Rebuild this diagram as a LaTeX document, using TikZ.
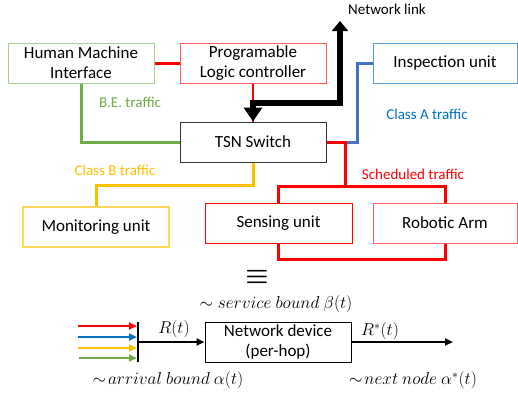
\documentclass[tikz,border=0pt]{standalone}
\usepackage{fontspec}
\setmainfont{Carlito}
\usetikzlibrary{arrows.meta}
\definecolor{cgreen}{RGB}{112,173,71}
\definecolor{cgreenb}{RGB}{169,208,142}
\definecolor{cred}{RGB}{255,0,0}
\definecolor{credb}{RGB}{255,90,90}
\definecolor{cblue}{RGB}{68,114,196}
\definecolor{cblueb}{RGB}{91,155,213}
\definecolor{cbluet}{RGB}{0,112,192}
\definecolor{cyel}{RGB}{255,192,0}
\definecolor{cyelb}{RGB}{255,212,90}
\begin{document}
\begin{tikzpicture}[x=1pt,y=-1pt,
  box/.style={draw,line width=1pt,minimum height=40pt,inner sep=0pt,align=center,font=\fontsize{17}{20}\selectfont,fill=white},
  lbl/.style={font=\fontsize{15}{18}\selectfont,inner sep=0pt},
  mlbl/.style={font=\fontsize{18}{21}\selectfont,inner sep=0pt},
  wire/.style={line width=3pt},
  inarr/.style={line width=2pt,-{Triangle[length=8pt,width=7pt]}}]
\useasboundingbox (0,0) rectangle (518,397);
% nodes
\node[box,draw=cgreenb,minimum width=146pt] (hmi) at (81,63) {Human Machine\\Interface};
\node[box,draw=credb,minimum width=146pt] (plc) at (253,63) {Programable\\Logic controller};
\node[box,draw=cblueb,minimum width=144pt] (insp) at (445,63) {Inspection unit};
\node[box,draw=black!80,minimum width=146pt] (tsn) at (253,142) {TSN Switch};
\node[box,draw=cyelb,line width=1.5pt,minimum width=146pt] (mon) at (96,227) {Monitoring unit};
\node[box,draw=cred,minimum width=147pt] (sens) at (278.5,223) {Sensing unit};
\node[box,draw=credb,minimum width=144pt] (rob) at (445,223) {Robotic Arm};
\coordinate (nl) at (340,21);
\coordinate (bend) at (253,103);
\coordinate (j0) at (345,142);
\coordinate (b1) at (357,142);
\coordinate (j1) at (345,186);
\coordinate (j2) at (345,259);
% connectors
\draw[wire,cred] (hmi.east) -- (plc.west);
\draw[line width=2pt,cred] (plc.south) -- (tsn.north);
\draw[line width=6pt,{Triangle[length=14pt,width=18pt]}-{Triangle[length=10pt,width=16pt]}] (tsn.north) -- (bend) -| (nl);
\node[lbl] (nltxt) at (387,9) {Network link};
\draw[wire,cgreen] (hmi.south) |- (tsn.west);
\node[lbl,text=cgreen] (be) at (130,102) {B.E. traffic};
\draw[wire,cblue] (insp.west) -| (b1) -- (j0);
\node[lbl,text=cbluet] (ca) at (427,114) {Class A traffic};
\draw[wire,cred] (tsn.east) -| (j1);
\draw[wire,cred] (sens.north) |- (j1) -| (rob.north);
\draw[wire,cred] (sens.south) |- (j2) -| (rob.south);
\node[lbl,text=cred] (st) at (413,174) {Scheduled traffic};
\draw[wire,cyel] (tsn.south) -- ++(0,23) -| (mon.north);
\node[lbl,text=cyel] (cb) at (115,170) {Class B traffic};
\node[box,draw=cred,minimum width=147pt] at (278.5,223) {Sensing unit};
\node[box,draw=credb,minimum width=144pt] at (445,223) {Robotic Arm};
% equivalence
\node[inner sep=0pt] (eq) at (257,277) {\scalebox{2.6}{\boldmath$\equiv$}};
% bottom part
\node[box,draw=black,minimum width=146pt] (nd) at (278,342) {Network device\\(per-hop)};
\coordinate (bt) at (138,322);
\coordinate (bb) at (138,362);
\coordinate (bm) at (138,342);
\coordinate (out) at (453,342);
\draw[line width=2.5pt] (bt) -- (bb);
\coordinate (r0) at (78,326); \coordinate (r1) at (137,326);
\coordinate (u0) at (78,337); \coordinate (u1) at (137,337);
\coordinate (y0) at (78,348); \coordinate (y1) at (137,348);
\coordinate (g0) at (79,358); \coordinate (g1) at (137,358);
\draw[inarr,cred] (r0) -- (r1);
\draw[inarr,cbluet] (u0) -- (u1);
\draw[inarr,cyel] (y0) -- (y1);
\draw[inarr,cgreen] (g0) -- (g1);
\draw[line width=2pt,-{Triangle[length=8pt,width=7pt]}] (bm) -- (nd.west);
\draw[line width=2pt,-{Triangle[length=8pt,width=7pt]}] (nd.east) -- (out);
\node[mlbl] (rt) at (174,329) {$R(t)$};
\node[mlbl] (rst) at (380,331) {$R^{*}(t)$};
\node[mlbl] (sb) at (276,304) {$\sim service\ bound\ \beta(t)$};
\node[mlbl] (ab) at (168,380) {$\sim\! arrival\ bound\ \alpha(t)$};
\node[mlbl] (nn) at (413,380) {$\sim\! next\ node\ \alpha^{*}(t)$};
\end{tikzpicture}
\end{document}
